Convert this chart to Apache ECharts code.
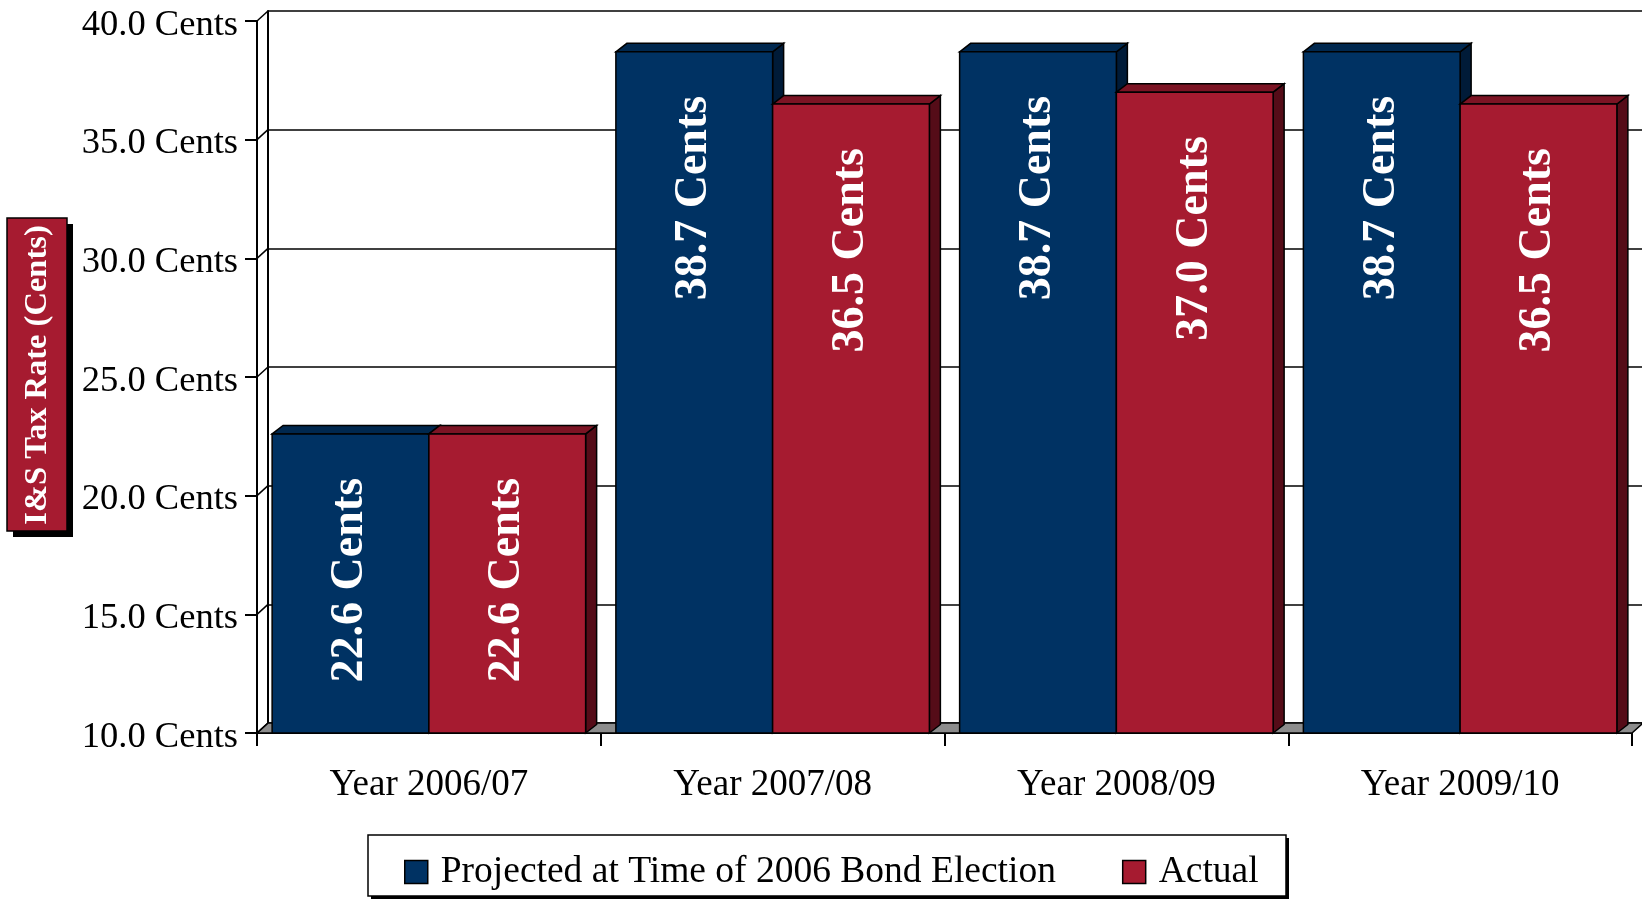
<!DOCTYPE html>
<html>
<head>
<meta charset="utf-8">
<title>I&amp;S Tax Rate</title>
<script src="https://cdn.jsdelivr.net/npm/echarts@6/dist/echarts.min.js"></script>
<style>
  html, body { margin: 0; padding: 0; background: #ffffff; }
  #chart { width: 1642px; height: 900px; }
</style>
</head>
<body>
<div id="chart"></div>
<script>
// Data
const categories = ['Year 2006/07', 'Year 2007/08', 'Year 2008/09', 'Year 2009/10'];
const projected = [22.6, 38.7, 38.7, 38.7];
const actual = [22.6, 36.5, 37.0, 36.5];
const yTicks = [10, 15, 20, 25, 30, 35, 40];
const seriesNames = ['Projected at Time of 2006 Bond Election', 'Actual'];

// Styling
const FONT = '"Liberation Serif", "DejaVu Serif", serif';
const BLUE = { front: '#003263', top: '#00284f', side: '#001b38' };
const RED = { front: '#a61b30', top: '#7c1424', side: '#550c18' };
const WALL_DX = 11, WALL_DY = 10;   // depth of the back wall
const BAR_DX = 11, BAR_DY = 8.5;    // depth of each bar
const BAR_FRAC = 0.456;             // bar width as share of the category band

const chart = echarts.init(document.getElementById('chart'), null, { renderer: 'canvas' });

function barRenderer(seriesIdx, palette) {
  return function (params, api) {
    const cat = api.value(0);
    const v = api.value(1);
    const top = api.coord([cat, v]);
    const base = api.coord([cat, yTicks[0]]);
    const band = api.size([1, 0])[0];
    const w = band * BAR_FRAC;
    const x0 = seriesIdx === 0 ? top[0] - w : top[0];
    const x1 = x0 + w;
    const yt = top[1], yb = base[1];
    const edge = { stroke: '#000', lineWidth: 1.5, lineJoin: 'miter' };
    return {
      type: 'group',
      children: [
        { type: 'polygon', shape: { points: [[x1, yt], [x1 + BAR_DX, yt - BAR_DY], [x1 + BAR_DX, yb - BAR_DY], [x1, yb]] },
          style: Object.assign({ fill: palette.side }, edge) },
        { type: 'polygon', shape: { points: [[x0, yt], [x0 + BAR_DX, yt - BAR_DY], [x1 + BAR_DX, yt - BAR_DY], [x1, yt]] },
          style: Object.assign({ fill: palette.top }, edge) },
        { type: 'rect', shape: { x: x0, y: yt, width: w, height: yb - yt },
          style: Object.assign({ fill: palette.front }, edge) },
        { type: 'text', x: x0 + w / 2, y: yt + 44, rotation: Math.PI / 2,
          style: { text: v.toFixed(1) + ' Cents', fill: '#ffffff', font: 'bold 46px ' + FONT,
                   align: 'right', verticalAlign: 'middle' } }
      ]
    };
  };
}

const option = {
  backgroundColor: '#ffffff',
  animation: false,
  grid: [
    // front plane
    { left: 257, top: 21, width: 1375, height: 712 },
    // back wall, shifted up and right
    { left: 257 + WALL_DX, top: 21 - WALL_DY, width: 1375, height: 712 }
  ],
  xAxis: [
    { type: 'category', gridIndex: 0, data: categories, boundaryGap: true,
      axisLine: { lineStyle: { color: '#000', width: 2 } },
      axisTick: { show: true, length: 13, alignWithLabel: false, lineStyle: { color: '#000', width: 2 } },
      axisLabel: { margin: 34, color: '#000', fontFamily: FONT, fontSize: 37 },
      splitLine: { show: false } },
    { type: 'category', gridIndex: 1, data: categories, show: false }
  ],
  yAxis: [
    { type: 'value', gridIndex: 0, min: 10, max: 40, interval: 5,
      axisLine: { show: true, lineStyle: { color: '#000', width: 2 } },
      axisTick: { show: true, length: 12, lineStyle: { color: '#000', width: 2 } },
      axisLabel: { margin: 19, color: '#000', fontFamily: FONT, fontSize: 36.5,
                   verticalAlign: 'top', lineHeight: 8,
                   formatter: v => v.toFixed(1) + ' Cents' },
      splitLine: { show: false } },
    { type: 'value', gridIndex: 1, min: 10, max: 40, interval: 5,
      axisLine: { show: true, lineStyle: { color: '#000', width: 2 } },
      axisTick: { show: false }, axisLabel: { show: false },
      splitLine: { show: true, lineStyle: { color: '#000', width: 1.5 } } }
  ],
  legend: {
    left: 404, top: 852, padding: 0,
    itemWidth: 23, itemHeight: 23, itemGap: 66,
    icon: 'rect',
    textStyle: { fontFamily: FONT, fontSize: 37.5, color: '#000', lineHeight: 40, padding: [0, 0, 0, 8] },
    data: [
      { name: seriesNames[0], itemStyle: { color: BLUE.front, borderColor: '#000', borderWidth: 1.5 } },
      { name: seriesNames[1], itemStyle: { color: RED.front, borderColor: '#000', borderWidth: 1.5 } }
    ],
    selectedMode: false
  },
  graphic: [
    // y-axis title box with drop shadow
    { type: 'rect', z: 1, shape: { x: 13, y: 224, width: 60, height: 313 }, style: { fill: '#000' } },
    { type: 'rect', z: 2, shape: { x: 7, y: 218, width: 60, height: 313 },
      style: { fill: RED.front, stroke: '#000', lineWidth: 1.5 } },
    { type: 'text', z: 3, x: 38, y: 375, rotation: Math.PI / 2,
      style: { text: 'I&S Tax Rate (Cents)', fill: '#ffffff', font: 'bold 32.5px ' + FONT,
               align: 'center', verticalAlign: 'middle' } },
    // legend frame with drop shadow
    { type: 'rect', z: 1, shape: { x: 371, y: 838, width: 918, height: 61 }, style: { fill: '#000' } },
    { type: 'rect', z: 2, shape: { x: 368, y: 835, width: 918, height: 61 },
      style: { fill: '#ffffff', stroke: '#000', lineWidth: 1.5 } }
  ],
  series: [
    // floor
    { type: 'custom', name: 'floor', xAxisIndex: 0, yAxisIndex: 0, z: 1, silent: true,
      data: [[0, yTicks[0]]],
      renderItem: function (params, api) {
        const cs = params.coordSys;
        const yb = cs.y + cs.height;
        const x0 = cs.x, x1 = cs.x + cs.width;
        return { type: 'polygon',
          shape: { points: [[x0, yb], [x1, yb], [x1 + WALL_DX, yb - WALL_DY], [x0 + WALL_DX, yb - WALL_DY]] },
          style: { fill: '#8c8c8c', stroke: '#000', lineWidth: 1.5 } };
      } },
    // connectors from front ticks to back wall gridlines
    { type: 'custom', name: 'connectors', xAxisIndex: 0, yAxisIndex: 0, z: 1, silent: true,
      data: yTicks.map(t => [0, t]),
      renderItem: function (params, api) {
        const cs = params.coordSys;
        const y = api.coord([0, api.value(1)])[1];
        return { type: 'line', shape: { x1: cs.x, y1: y, x2: cs.x + WALL_DX, y2: y - WALL_DY },
          style: { stroke: '#000', lineWidth: 1.5 } };
      } },
    { type: 'custom', name: seriesNames[0], xAxisIndex: 0, yAxisIndex: 0, z: 3,
      itemStyle: { color: BLUE.front },
      encode: { x: 0, y: 1 },
      data: projected.map((v, i) => [i, v]),
      renderItem: barRenderer(0, BLUE) },
    { type: 'custom', name: seriesNames[1], xAxisIndex: 0, yAxisIndex: 0, z: 4,
      itemStyle: { color: RED.front },
      encode: { x: 0, y: 1 },
      data: actual.map((v, i) => [i, v]),
      renderItem: barRenderer(1, RED) }
  ]
};

chart.setOption(option);
</script>
</body>
</html>
